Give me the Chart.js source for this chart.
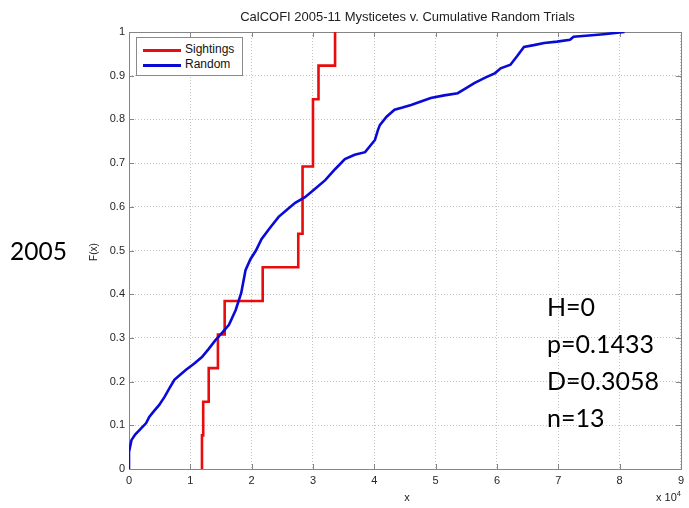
<!DOCTYPE html>
<html>
<head>
<meta charset="utf-8">
<script src="https://cdn.jsdelivr.net/npm/chart.js@4.4.1/dist/chart.umd.min.js"></script>
<style>
  body { margin: 0; background: #fff; }
  #wrap { position: relative; width: 689px; height: 508px; overflow: hidden; background: #fff;
          font-family: "Liberation Sans", Arial, sans-serif; color: #222; }
  #c { position: absolute; left: 0; top: 0; }
  .t { position: absolute; white-space: nowrap; }
  #title { left: 129px; width: 557px; top: 9px; text-align: center; font-size: 13px; }
  #ylab { left: 93px; top: 252px; font-size: 10px; transform: translate(-50%, -50%) rotate(-90deg); }
  #xlab { left: 407px; top: 497px; font-size: 11px; transform: translate(-50%, -50%); }
  #xmul { left: 656px; top: 489px; font-size: 11px; }
  #xmul sup { font-size: 7.5px; vertical-align: 5px; }
  .big { font-family: Lato, "Open Sans", sans-serif; font-size: 25px; color: #000; }
  #year { left: 10px; top: 236px; line-height: 30px; font-size: 24.5px; }
  #stats { left: 547px; top: 288px; line-height: 37px; }
  #legend { position: absolute; left: 136px; top: 37px; width: 105px; height: 37px;
            border: 1px solid #8a8a8a; background: #fff; font-size: 12px; color: #111; }
  .lg-row { position: absolute; left: 0; height: 14px; }
  .lg-line { position: absolute; left: 6px; width: 38px; height: 2.5px; top: 6px; }
  .lg-text { position: absolute; left: 48px; top: -1px; }
</style>
</head>
<body>
<div id="wrap">
  <canvas id="c" width="689" height="508"></canvas>
  <div class="t" id="title">CalCOFI 2005-11 Mysticetes v. Cumulative Random Trials</div>
  <div class="t" id="ylab">F(x)</div>
  <div class="t" id="xlab">x</div>
  <div class="t" id="xmul">x 10<sup>4</sup></div>
  <div class="t big" id="year">2005</div>
  <div class="t big" id="stats">H=0<br>p=0.1433<br>D=0.3058<br>n=13</div>
  <div id="legend">
    <div class="lg-row" style="top:5px"><div class="lg-line" id="lgS"></div><div class="lg-text">Sightings</div></div>
    <div class="lg-row" style="top:20px"><div class="lg-line" id="lgR"></div><div class="lg-text">Random</div></div>
  </div>
</div>
<script>
// Empirical CDF of the 13 sighting distances (step function)
const sightingX = [11900, 11900, 12100, 13000, 14500, 15600, 21800, 27600, 28300, 28300, 30000, 30000, 30900, 33600];
const sightingF = [0, 0.0769, 0.1538, 0.2308, 0.3077, 0.3846, 0.4615, 0.5385, 0.6154, 0.6923, 0.7692, 0.8462, 0.9231, 1.0];

// Cumulative distribution of the random trials
const randomX = [0, 0, 400, 1000, 1700, 2800, 3300, 4100, 4900, 5800, 6600, 7400, 8300, 9300, 10600, 11900, 13000,
                 14100, 15200, 16300, 17400, 18300, 19000, 19800, 20700, 21600, 23000, 24400, 25800, 27100, 28700,
                 30300, 32000, 33600, 35200, 36800, 38500, 40100, 40600, 40900, 42000, 43300, 44600, 46000, 47600,
                 49200, 51400, 53600, 54900, 56300, 58000, 59700, 60600, 62200, 63300, 64400, 66000, 67700, 69800,
                 71900, 72500, 75000, 77400, 80800];
const randomF = [0, 0.039, 0.066, 0.079, 0.089, 0.105, 0.119, 0.133, 0.146, 0.165, 0.185, 0.204, 0.215, 0.227, 0.241, 0.256, 0.275,
                 0.295, 0.312, 0.330, 0.364, 0.403, 0.455, 0.480, 0.500, 0.526, 0.552, 0.577, 0.594, 0.609, 0.622,
                 0.641, 0.661, 0.686, 0.709, 0.719, 0.725, 0.753, 0.776, 0.787, 0.806, 0.822, 0.827, 0.833, 0.841,
                 0.849, 0.855, 0.860, 0.871, 0.883, 0.895, 0.906, 0.917, 0.925, 0.945, 0.966, 0.970, 0.975, 0.978,
                 0.982, 0.989, 0.992, 0.995, 1.0];

const xTickLabels = ['0', '1', '2', '3', '4', '5', '6', '7', '8', '9'];
const yTickLabels = ['0', '0.1', '0.2', '0.3', '0.4', '0.5', '0.6', '0.7', '0.8', '0.9', '1'];

const RED = 'rgb(232, 12, 12)';
const BLUE = 'rgb(10, 10, 215)';
const AXIS = '#858585';

document.getElementById('lgS').style.background = RED;
document.getElementById('lgR').style.background = BLUE;

const toPoints = (xs, ys) => xs.map((x, i) => ({ x: x, y: ys[i] }));

// Solid axes box with short inward tick marks on all four sides
const axesBox = {
  id: 'axesBox',
  beforeDatasetsDraw(chart) {
    const { ctx, chartArea: a, scales } = chart;
    ctx.save();
    ctx.strokeStyle = AXIS;
    ctx.lineWidth = 1;
    ctx.beginPath();
    const len = 5;
    scales.x.ticks.forEach(t => {
      const px = Math.round(scales.x.getPixelForValue(t.value)) + 0.5;
      ctx.moveTo(px, a.bottom); ctx.lineTo(px, a.bottom - len);
      ctx.moveTo(px, a.top); ctx.lineTo(px, a.top + len);
    });
    scales.y.ticks.forEach(t => {
      const py = Math.round(scales.y.getPixelForValue(t.value)) + 0.5;
      ctx.moveTo(a.left, py); ctx.lineTo(a.left + len, py);
      ctx.moveTo(a.right, py); ctx.lineTo(a.right - len, py);
    });
    ctx.stroke();
    ctx.strokeRect(Math.round(a.left) + 0.5, Math.round(a.top) + 0.5,
                   Math.round(a.right - a.left), Math.round(a.bottom - a.top));
    ctx.restore();
  }
};

new Chart(document.getElementById('c'), {
  type: 'line',
  data: {
    datasets: [
      {
        label: 'Random',
        data: toPoints(randomX, randomF),
        borderColor: BLUE,
        borderWidth: 2.6,
        pointRadius: 0,
        tension: 0,
        fill: false
      },
      {
        label: 'Sightings',
        data: toPoints(sightingX, sightingF),
        borderColor: RED,
        borderWidth: 2.6,
        pointRadius: 0,
        stepped: 'before',
        fill: false
      }
    ]
  },
  options: {
    responsive: false,
    animation: false,
    devicePixelRatio: 1,
    layout: { padding: { left: 0, right: 3, top: 32, bottom: 0 } },
    plugins: { legend: { display: false }, title: { display: false }, tooltip: { enabled: false } },
    scales: {
      x: {
        type: 'linear',
        min: 0,
        max: 90000,
        afterFit(scale) { scale.height = 39; },
        ticks: {
          stepSize: 10000,
          padding: 5,
          maxRotation: 0,
          color: '#262626',
          font: { family: '"Liberation Sans", Arial, sans-serif', size: 11 },
          callback: (v, i) => xTickLabels[i]
        },
        grid: { color: '#c4c4c4', lineWidth: 1, drawTicks: false },
        border: { display: false, dash: [1, 2] }
      },
      y: {
        type: 'linear',
        min: 0,
        max: 1,
        afterFit(scale) { scale.width = 129; },
        ticks: {
          stepSize: 0.1,
          padding: 4,
          color: '#262626',
          font: { family: '"Liberation Sans", Arial, sans-serif', size: 11 },
          callback: (v, i) => yTickLabels[i]
        },
        grid: { color: '#c4c4c4', lineWidth: 1, drawTicks: false },
        border: { display: false, dash: [1, 2] }
      }
    }
  },
  plugins: [axesBox]
});
</script>
</body>
</html>
